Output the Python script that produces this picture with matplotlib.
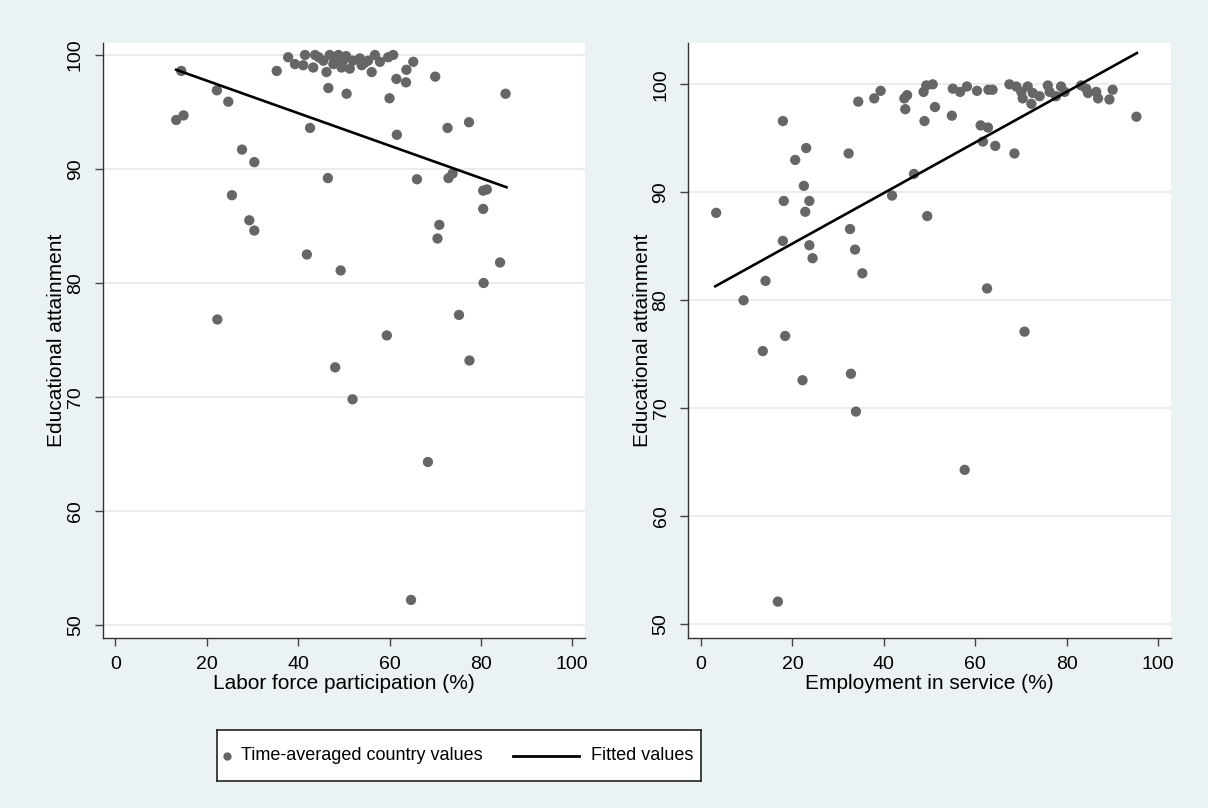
import matplotlib
matplotlib.use("Agg")
import matplotlib.pyplot as plt
from matplotlib import font_manager as fm

# ---------------- data ----------------
lfp_x = [13.3, 14.4, 14.9, 22.2, 22.3, 24.7, 25.5, 27.7, 29.3, 30.4, 30.4, 35.3,
         37.8, 39.3, 41.1, 41.5, 41.9, 42.6, 43.3, 43.7, 44.5, 45.5, 46.2, 46.5,
         46.6, 46.9, 47.7, 48.0, 48.1, 48.8, 49.3, 49.5, 49.8, 50.5, 50.6, 51.3,
         51.9, 52.0, 53.5, 53.9, 54.5, 55.3, 56.1, 56.8, 57.9, 59.4, 59.7, 60.0,
         60.8, 61.5, 61.6, 63.6, 63.7, 64.7, 65.2, 66.0, 68.4, 70.0, 70.5, 70.9,
         72.7, 72.9, 73.8, 75.2, 77.4, 77.5, 80.5, 81.3, 80.5, 80.6, 84.2, 85.4]
lfp_y = [94.3, 98.6, 94.7, 96.9, 76.8, 95.9, 87.7, 91.7, 85.5, 90.6, 84.6, 98.6,
         99.8, 99.2, 99.1, 100.0, 82.5, 93.6, 98.9, 100.0, 99.8, 99.5, 98.5, 89.2,
         97.1, 100.0, 99.2, 99.6, 72.6, 100.0, 81.1, 98.9, 99.5, 99.9, 96.6, 98.8,
         69.8, 99.5, 99.7, 99.1, 99.3, 99.5, 98.5, 100.0, 99.4, 75.4, 99.8, 96.2,
         100.0, 97.9, 93.0, 97.6, 98.7, 52.2, 99.4, 89.1, 64.3, 98.1, 83.9, 85.1,
         93.6, 89.2, 89.6, 77.2, 94.1, 73.2, 88.1, 88.2, 86.5, 80.0, 81.8, 96.6]
lfp_fit_x = [13.3, 85.6]
lfp_fit_y = [98.7, 88.4]

srv_x = [3.3, 9.3, 13.5, 14.1, 16.8, 17.9, 17.9, 18.1, 18.4, 20.6, 22.2, 22.5,
         22.8, 23.0, 23.7, 23.7, 24.4, 32.3, 32.6, 32.8, 33.7, 33.9, 34.4, 35.3,
         37.9, 39.3, 41.8, 44.5, 44.7, 45.1, 46.6, 48.7, 48.9, 49.3, 49.5, 50.7,
         51.2, 54.9, 55.1, 56.7, 57.7, 58.2, 60.4, 61.2, 61.7, 62.6, 62.8, 62.9,
         63.8, 64.4, 67.5, 68.6, 69.0, 70.1, 70.4, 70.8, 71.5, 72.3, 72.6, 74.1,
         75.9, 76.3, 77.7, 78.8, 79.6, 83.2, 84.3, 84.7, 86.5, 86.9, 89.4, 90.1, 95.3]
srv_y = [88.1, 80.0, 75.3, 81.8, 52.1, 96.6, 85.5, 89.2, 76.7, 93.0, 72.6, 90.6,
         88.2, 94.1, 89.2, 85.1, 83.9, 93.6, 86.6, 73.2, 84.7, 69.7, 98.4, 82.5,
         98.7, 99.4, 89.7, 98.7, 97.7, 99.0, 91.7, 99.3, 96.6, 99.9, 87.8, 100.0,
         97.9, 97.1, 99.6, 99.3, 64.3, 99.8, 99.4, 96.2, 94.7, 81.1, 96.0, 99.5,
         99.5, 94.3, 100.0, 93.6, 99.8, 99.3, 98.7, 77.1, 99.8, 98.2, 99.2, 98.9,
         99.9, 99.3, 98.9, 99.8, 99.3, 99.9, 99.6, 99.2, 99.3, 98.7, 98.6, 99.5, 97.0]
srv_fit_x = [3.1, 95.4]
srv_fit_y = [81.3, 102.9]

x_ticks = [0, 20, 40, 60, 80, 100]
y_ticks = [50, 60, 70, 80, 90, 100]
x_labels = ["Labor force participation (%)", "Employment in service (%)"]
y_label = "Educational attainment"
legend_labels = ["Time-averaged country values", "Fitted values"]

# ---------------- style ----------------
BG = "#EAF2F3"
DOT = "#666666"
plt.rcParams["font.family"] = ["Liberation Sans", "DejaVu Sans"]

fig = plt.figure(figsize=(12.08, 8.08), dpi=100, facecolor=BG)

panels = [
    ([0.0850, 0.2108, 0.3993, 0.7364], lfp_x, lfp_y, lfp_fit_x, lfp_fit_y,
     x_labels[0], (48.89, 101.08)),
    ([0.5698, 0.2108, 0.3993, 0.7364], srv_x, srv_y, srv_fit_x, srv_fit_y,
     x_labels[1], (48.76, 103.86)),
]

for rect, xs, ys, fx, fy, xl, ylim in panels:
    ax = fig.add_axes(rect)
    ax.set_facecolor("white")
    ax.set_xlim(-2.8, 102.8)
    ax.set_ylim(*ylim)
    ax.set_xticks(x_ticks)
    ax.set_yticks(y_ticks)
    ax.grid(axis="y", color="#E4EDEF", linewidth=1.3)
    ax.set_axisbelow(True)
    ax.scatter(xs, ys, s=55, color=DOT, edgecolors="none", zorder=3)
    ax.plot(fx, fy, color="black", linewidth=1.9, zorder=4)
    for s in ["top", "right"]:
        ax.spines[s].set_visible(False)
    for s in ["left", "bottom"]:
        ax.spines[s].set_color("#333333")
        ax.spines[s].set_linewidth(1.0)
    ax.tick_params(axis="both", length=6, width=1.0, color="#444444",
                   labelsize=14, labelcolor="black")
    ax.tick_params(axis="x", pad=7)
    ax.tick_params(axis="y", pad=7.5)
    for lab in ax.get_yticklabels():
        lab.set_rotation(90)
        lab.set_va("center")
        lab.set_ha("right")
    ax.set_xlabel(xl, fontsize=15, color="black")
    ax.xaxis.set_label_coords(0.5, -0.061)
    ax.set_ylabel(y_label, fontsize=15, color="black", va="center")
    ax.yaxis.set_label_coords(-0.095, 0.5)

# ---------------- legend ----------------
try:
    fm.findfont(fm.FontProperties(family="Liberation Sans Narrow"),
                fallback_to_default=False)
    leg_family, leg_size = "Liberation Sans Narrow", 15.5
except Exception:
    leg_family, leg_size = "Liberation Sans", 13.0

lax = fig.add_axes([0.1794, 0.0334, 0.4009, 0.0631])
lax.set_xlim(0, 1)
lax.set_ylim(0, 1)
lax.set_xticks([])
lax.set_yticks([])
lax.set_facecolor("white")
for s in lax.spines.values():
    s.set_color("#222222")
    s.set_linewidth(1.2)
lax.plot([0.0206], [0.5], "o", color=DOT, markersize=6, markeredgewidth=0)
lax.text(0.0502, 0.5, legend_labels[0], va="center", ha="left",
         family=leg_family, fontsize=leg_size, color="black")
lax.plot([0.612, 0.748], [0.5, 0.5], color="black", linewidth=2.0)
lax.text(0.773, 0.5, legend_labels[1], va="center", ha="left",
         family=leg_family, fontsize=leg_size, color="black")

fig.savefig("out.png", dpi=100, facecolor=BG)
